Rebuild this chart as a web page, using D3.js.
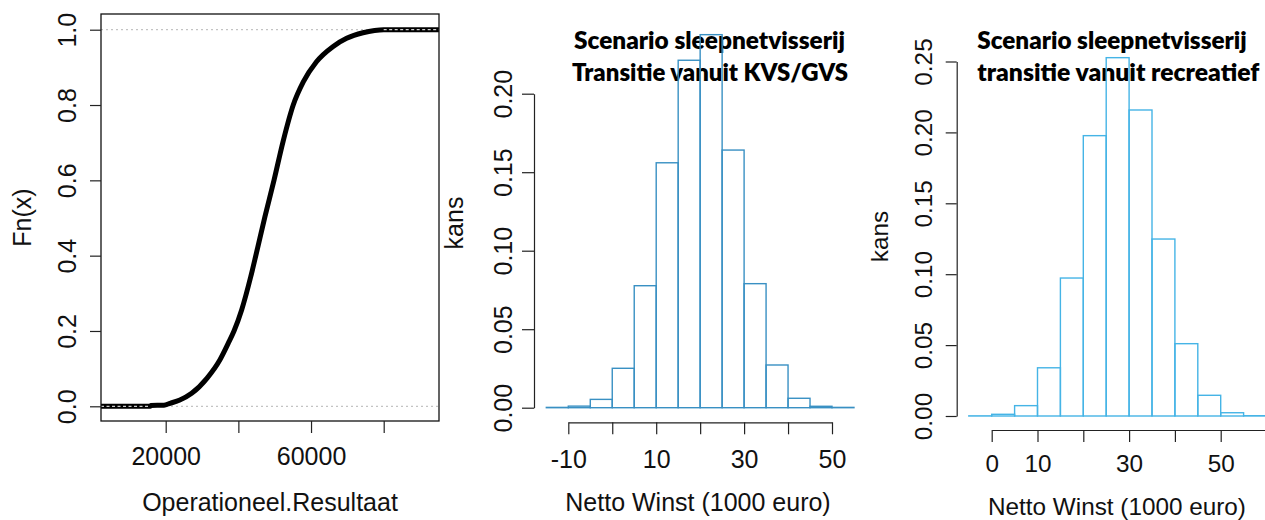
<!DOCTYPE html>
<html><head><meta charset="utf-8">
<script src="https://cdn.jsdelivr.net/npm/d3@7"></script>
<style>body{margin:0;background:#fff}svg{display:block}</style>
</head><body><svg id="c" width="1265" height="520"></svg>
<script>
// ---------- data ----------
const ecdfX = [2200, 15700, 15900, 19500, 21200, 23900, 27150, 31400, 34900, 37200, 38800, 40900, 43400, 44800, 47300, 49800, 52350, 55100, 57900, 61500, 66000, 69800, 74300, 77500, 80000, 95200];
const ecdfF = [0, 0, 0.002, 0.003, 0.008, 0.0167, 0.0345, 0.075, 0.123, 0.167, 0.2, 0.256, 0.344, 0.4, 0.503, 0.6, 0.705, 0.8, 0.862, 0.915, 0.955, 0.977, 0.992, 0.998, 1, 1];
const leftXTicks = [20000, 40000, 60000, 80000];
const leftXLabels = ["20000", "", "60000", ""];
const leftYTicks = [0, 0.2, 0.4, 0.6, 0.8, 1.0];
const leftYLabels = ["0.0", "0.2", "0.4", "0.6", "0.8", "1.0"];

const midBinStart = [-15, -10, -5, 0, 5, 10, 15, 20, 25, 30, 35, 40, 45, 50];
const midProbs = [0.0002, 0.001, 0.0053, 0.0251, 0.0777, 0.156, 0.2213, 0.2376, 0.1641, 0.079, 0.0272, 0.006, 0.0009, 0.0002];
const midXTicks = [-10, 0, 10, 20, 30, 40, 50];
const midXLabels = ["-10", "", "10", "", "30", "", "50"];
const midYTicks = [0, 0.05, 0.10, 0.15, 0.20];
const midYLabels = ["0.00", "0.05", "0.10", "0.15", "0.20"];
const midTitle = ["Scenario sleepnetvisserij", "Transitie vanuit KVS/GVS"];

const rightBinStart = [-5, 0, 5, 10, 15, 20, 25, 30, 35, 40, 45, 50, 55];
const rightProbs = [0.0001, 0.0012, 0.0073, 0.034, 0.0973, 0.1977, 0.2527, 0.2158, 0.1248, 0.051, 0.0146, 0.0023, 0.0002];
const rightXTicks = [0, 10, 20, 30, 40, 50, 60];
const rightXLabels = ["0", "10", "", "30", "", "50", ""];
const rightYTicks = [0, 0.05, 0.10, 0.15, 0.20, 0.25];
const rightYLabels = ["0.00", "0.05", "0.10", "0.15", "0.20", "0.25"];
const rightTitle = ["Scenario sleepnetvisserij", "transitie vanuit recreatief"];

const binWidth = 5;
const axisFont = "'Liberation Sans', Arial, sans-serif";
const titleFont = "Lato, 'Open Sans', sans-serif";

const svg = d3.select("#c");

function yAxis(g, scale, ticks, labels, axisX, tickLen, baselineX, fs) {
  const ax = d3.axisLeft(scale).tickValues(ticks).tickSize(tickLen).tickSizeOuter(0)
    .tickFormat((d, i) => labels[i]);
  const a = g.append("g").attr("transform", `translate(${axisX},0)`).call(ax);
  a.selectAll("path.domain").attr("stroke", "#222").attr("stroke-width", 1.2);
  a.selectAll(".tick line").attr("stroke", "#222").attr("stroke-width", 1.2);
  a.selectAll(".tick text").attr("x", null).attr("dy", null).attr("y", null)
    .attr("text-anchor", "middle").attr("fill", "#111")
    .attr("transform", `translate(${baselineX - axisX},0) rotate(-90)`)
    .style("font-family", axisFont).style("font-size", fs + "px");
  return a;
}
function xAxis(g, scale, ticks, labels, axisY, tickLen, baselineY, fs, drawDomain) {
  const ax = d3.axisBottom(scale).tickValues(ticks).tickSize(tickLen).tickSizeOuter(0)
    .tickFormat((d, i) => labels[i]);
  const a = g.append("g").attr("transform", `translate(0,${axisY})`).call(ax);
  a.selectAll("path.domain").attr("stroke", drawDomain ? "#222" : "none").attr("stroke-width", 1.2);
  a.selectAll(".tick line").attr("stroke", "#222").attr("stroke-width", 1.2);
  a.selectAll(".tick text").attr("dy", null).attr("y", baselineY - axisY)
    .attr("fill", "#111").style("font-family", axisFont).style("font-size", fs + "px");
  return a;
}
function label(x, y, txt, fs, rot) {
  svg.append("text").attr("transform", `translate(${x},${y})` + (rot ? " rotate(-90)" : ""))
    .attr("text-anchor", "middle").attr("fill", "#111")
    .style("font-family", axisFont).style("font-size", fs + "px").text(txt);
}

// ---------- left: ECDF ----------
{
  const box = {l: 101, r: 439, t: 14, b: 421};
  const x = d3.scaleLinear().domain([20000, 80000]).range([165.7, 383.7]);
  const y = d3.scaleLinear().domain([0, 1]).range([406.3, 29.7]);
  const g = svg.append("g");
  [0, 1].forEach(v => g.append("line").attr("x1", box.l).attr("x2", box.r)
    .attr("y1", y(v)).attr("y2", y(v)).attr("stroke", "#b5b5b5").attr("stroke-width", 1)
    .attr("stroke-dasharray", "2,3"));
  const pts = ecdfX.map((v, i) => [v, ecdfF[i]]);
  const line = d3.line().x(d => x(d[0])).y(d => y(d[1])).curve(d3.curveMonotoneX);
  g.append("path").attr("d", line(pts)).attr("fill", "none").attr("stroke", "#000")
    .attr("stroke-width", 5).attr("stroke-linejoin", "round");
  const tails = [[[ecdfX[0], 0], [ecdfX[1], 0]], [[ecdfX[ecdfX.length - 2], 1], [ecdfX[ecdfX.length - 1], 1]]];
  const tl = d3.line().x(d => x(d[0])).y(d => y(d[1]));
  tails.forEach(t => {
    g.append("path").attr("d", tl(t)).attr("stroke", "#000").attr("stroke-width", 3.6).attr("fill", "none");
    g.append("path").attr("d", tl(t)).attr("stroke", "#fff").attr("stroke-width", 1)
      .attr("stroke-dasharray", "3,2.5").attr("fill", "none");
  });
  g.append("rect").attr("x", box.l).attr("y", box.t).attr("width", box.r - box.l).attr("height", box.b - box.t)
    .attr("fill", "none").attr("stroke", "#111").attr("stroke-width", 1.3);
  const ya = yAxis(g, y, leftYTicks, leftYLabels, box.l, 11, 76, 25);
  ya.select("path.domain").attr("stroke", "none");
  xAxis(g, x, leftXTicks, leftXLabels, box.b, 12, 465, 25, false);
  label(31, 217.5, "Fn(x)", 25, true);
  label(270, 511, "Operationeel.Resultaat", 25, false);
}

// ---------- histogram helper ----------
function hist(binStart, probs, x, y, color, titleLines, titlePos) {
  const g = svg.append("g");
  titleLines.forEach((t, i) => {
    g.append("text").attr("x", titlePos[i].x).attr("y", titlePos[i].y)
      .attr("textLength", titlePos[i].w).attr("lengthAdjust", "spacingAndGlyphs")
      .style("font-family", titleFont).style("font-weight", 800).style("font-size", "23.5px")
      .attr("fill", "#000").text(t);
  });
  g.selectAll("rect.bar").data(binStart).join("rect").attr("class", "bar")
    .attr("x", d => x(d)).attr("width", d => x(d + binWidth) - x(d))
    .attr("y", (d, i) => y(probs[i])).attr("height", (d, i) => y(0) - y(probs[i]))
    .attr("fill", "none").attr("stroke", color).attr("stroke-width", 1.4);
  return g;
}

// ---------- middle ----------
{
  const x = d3.scaleLinear().domain([-10, 50]).range([568.3, 832]);
  const y = d3.scaleLinear().domain([0, 0.2]).range([407.7, 93.7]);
  const g = hist(midBinStart, midProbs, x, y, "#3990c3", midTitle,
    [{x: 574, y: 48.5, w: 271}, {x: 572, y: 81, w: 276}]);
  yAxis(g, y, midYTicks, midYLabels, 534, 12, 512, 25);
  xAxis(g, x, midXTicks, midXLabels, 422.3, 12, 468, 25, true);
  label(463, 223, "kans", 25, true);
  label(698, 510.7, "Netto Winst (1000 euro)", 25, false);
}

// ---------- right ----------
{
  const x = d3.scaleLinear().domain([0, 60]).range([991.7, 1266.5]);
  const y = d3.scaleLinear().domain([0, 0.25]).range([416, 61.5]);
  const g = hist(rightBinStart, rightProbs, x, y, "#45b4e6", rightTitle,
    [{x: 977.3, y: 48.5, w: 269.4}, {x: 977.3, y: 81, w: 282}]);
  yAxis(g, y, rightYTicks, rightYLabels, 956.7, 11, 932, 24.3);
  xAxis(g, x, rightXTicks, rightXLabels, 430, 12, 471.7, 24.3, true);
  label(888, 236.5, "kans", 24.3, true);
  label(1117, 515, "Netto Winst (1000 euro)", 24.3, false);
}
</script></body></html>
